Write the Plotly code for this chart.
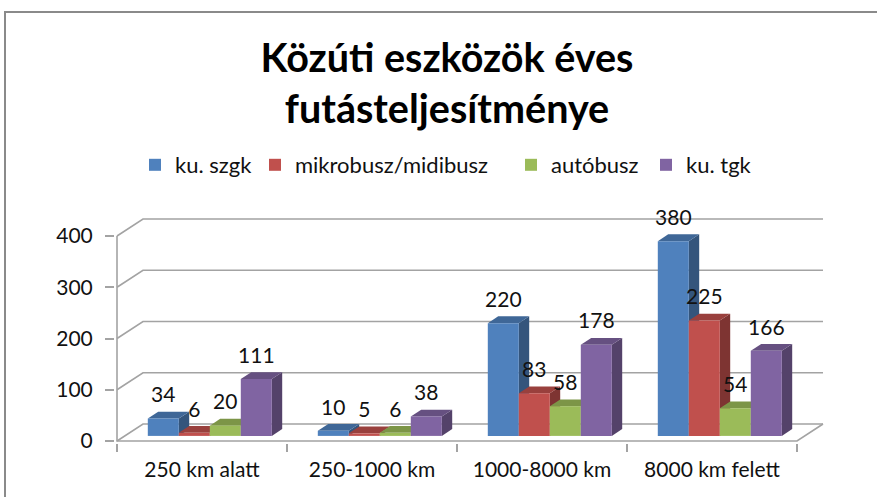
import plotly.graph_objects as go

# ---------------- data ----------------
categories = ["250 km alatt", "250-1000 km", "1000-8000 km", "8000 km felett"]
series_names = ["ku. szgk", "mikrobusz/midibusz", "autóbusz", "ku. tgk"]
ku_szgk = [34, 10, 220, 380]
mikrobusz_midibusz = [6, 5, 83, 225]
autobusz = [20, 6, 58, 54]
ku_tgk = [111, 38, 178, 166]
y_tick_values = [0, 100, 200, 300, 400]
title_text = "Közúti eszközök éves<br>futásteljesítménye"

series_values = [ku_szgk, mikrobusz_midibusz, autobusz, ku_tgk]

# ---------------- style ----------------
front_colors = ["#4F81BD", "#C0504D", "#9BBB59", "#8064A2"]
legend_entry_widths = [75, 211, 90, 80]
FONT = "Lato"
TEXT_COLOR = "#111111"
GRID_COLOR = "#a3a3a3"


def shade(hex_color, f):
    h = hex_color.lstrip("#")
    r, g, b = (int(h[i:i + 2], 16) for i in (0, 2, 4))
    return "#%02x%02x%02x" % (int(r * f), int(g * f), int(b * f))


side_colors = [shade(c, 0.66) for c in front_colors]
top_colors = [shade(c, 0.80) for c in front_colors]

# ---------------- geometry (pixels) ----------------
W, H = 877, 497
X_LEFT_PX = 117          # pixel of x = -0.5 (front left)
CAT_PX = 170             # pixels per category
Y_ZERO_PX = 441          # pixel of value 0 (front)
PX_PER_UNIT = 0.5125     # pixels per value unit
DEPTH_DX, DEPTH_DY = 26, 17
BAR_W_PX = 31
BAR_FRONT, BAR_BACK = 0.3, 0.7
LABEL_GAP_PX = 21.5

ux = 1.0 / CAT_PX
uy = 1.0 / PX_PER_UNIT
n = len(categories)
ns = len(series_values)

xmin = -0.5 - 2 * ux
xmax = n - 0.5 + (DEPTH_DX + 3) * ux
ymin = -2 * uy
ymax = max(y_tick_values) + (DEPTH_DY + 3) * uy

plot_w = (xmax - xmin) * CAT_PX
plot_h = (ymax - ymin) * PX_PER_UNIT
m_l = X_LEFT_PX - 2
m_r = W - m_l - plot_w
m_b = H - (Y_ZERO_PX + 2)
m_t = H - m_b - plot_h

Dx = DEPTH_DX * ux
Dy = DEPTH_DY * uy
bar_w = BAR_W_PX * ux
bar_base = BAR_FRONT * DEPTH_DY * uy
front_dx = BAR_FRONT * DEPTH_DX * ux
bdx = (BAR_BACK - BAR_FRONT) * DEPTH_DX * ux
bdy = (BAR_BACK - BAR_FRONT) * DEPTH_DY * uy
group_w = ns * bar_w


def bar_center(k, i):
    return k - group_w / 2 + front_dx + (i + 0.5) * bar_w


fig = go.Figure()

for i, (name, vals) in enumerate(zip(series_names, series_values)):
    fig.add_trace(go.Bar(
        x=[bar_center(k, i) for k in range(n)],
        y=vals,
        base=bar_base,
        width=bar_w,
        name=name,
        legendwidth=legend_entry_widths[i],
        marker=dict(color=front_colors[i], line=dict(width=0)),
        hoverinfo="skip",
    ))

for i, vals in enumerate(series_values):
    fig.add_trace(go.Scatter(
        x=[bar_center(k, i) for k in range(n)],
        y=[v + bar_base + LABEL_GAP_PX * uy for v in vals],
        text=[str(v) for v in vals],
        mode="text",
        textposition="middle center",
        textfont=dict(family=FONT, size=21, color=TEXT_COLOR),
        cliponaxis=False,
        showlegend=False,
        hoverinfo="skip",
    ))

shapes = []


def path(points):
    return "M" + " L".join("%.5f,%.5f" % p for p in points) + " Z"


def open_path(points):
    return "M" + " L".join("%.5f,%.5f" % p for p in points)


# perspective gridlines (front-left slant + back wall line)
for v in y_tick_values:
    shapes.append(dict(type="path", xref="x", yref="y", layer="below",
                       path=open_path([(-0.5, v), (-0.5 + Dx, v + Dy), (n - 0.5 + Dx, v + Dy)]),
                       line=dict(color=GRID_COLOR, width=1.6)))
# floor front edge, right slant, value axis line
shapes.append(dict(type="path", xref="x", yref="y", layer="below",
                   path=open_path([(-0.5, max(y_tick_values)), (-0.5, 0), (n - 0.5, 0), (n - 0.5 + Dx, Dy)]),
                   line=dict(color=GRID_COLOR, width=1.6)))

# 3D faces of the bars
for k in range(n):
    for i, vals in enumerate(series_values):
        v = vals[k]
        xl = bar_center(k, i) - bar_w / 2
        xr = xl + bar_w
        b0 = bar_base
        b1 = bar_base + v
        shapes.append(dict(type="path", xref="x", yref="y", layer="below",
                           path=path([(xr, b0), (xr + bdx, b0 + bdy), (xr + bdx, b1 + bdy), (xr, b1)]),
                           fillcolor=side_colors[i], line=dict(width=0)))
        shapes.append(dict(type="path", xref="x", yref="y", layer="below",
                           path=path([(xl, b1), (xr, b1), (xr + bdx, b1 + bdy), (xl + bdx, b1 + bdy)]),
                           fillcolor=top_colors[i], line=dict(width=0)))


def paper_x(px):
    return (px - m_l) / plot_w


def paper_y(py):
    return (H - m_b - py) / plot_h


# chart frame
shapes.append(dict(type="rect", xref="paper", yref="paper", layer="below",
                   x0=paper_x(5), x1=paper_x(W + 30), y0=paper_y(H + 30), y1=paper_y(12),
                   line=dict(color="#8a8a8a", width=2), fillcolor="rgba(0,0,0,0)"))

fig.update_layout(
    template="none",
    width=W, height=H,
    margin=dict(l=m_l, r=m_r, t=m_t, b=m_b, pad=0),
    paper_bgcolor="white", plot_bgcolor="rgba(0,0,0,0)",
    barmode="overlay",
    shapes=shapes,
    title=dict(text=title_text, x=447 / W, xref="container", xanchor="center",
               y=1 - 72 / H, yref="container", yanchor="middle",
               font=dict(family=FONT, size=39.5, color="#000000", weight="bold")),
    legend=dict(orientation="h", xref="container", yref="container",
                x=135 / W, xanchor="left", y=1 - 165 / H, yanchor="middle",
                font=dict(family=FONT, size=22, color=TEXT_COLOR),
                bgcolor="rgba(0,0,0,0)", itemwidth=30, traceorder="normal"),
    xaxis=dict(range=[xmin, xmax], automargin=False, showgrid=False, zeroline=False,
               showline=False, tickmode="array", tickvals=list(range(n)), ticktext=categories,
               ticks="", ticklabelstandoff=12,
               tickfont=dict(family=FONT, size=21, color=TEXT_COLOR),
               minor=dict(tickmode="array", tickvals=[k - 0.5 for k in range(n + 1)],
                          ticks="outside", ticklen=8, tickwidth=1.6, tickcolor=GRID_COLOR,
                          showgrid=False)),
    yaxis=dict(range=[ymin, ymax], automargin=False, showgrid=False, zeroline=False,
               showline=False, tickmode="array", tickvals=y_tick_values,
               ticks="outside", ticklen=9, tickwidth=1.6, tickcolor=GRID_COLOR,
               ticklabelstandoff=8,
               tickfont=dict(family=FONT, size=21, color=TEXT_COLOR)),
    showlegend=True,
)

fig.write_html("out.html", config={"displayModeBar": False},
               post_script="document.body.style.margin='0px';")
